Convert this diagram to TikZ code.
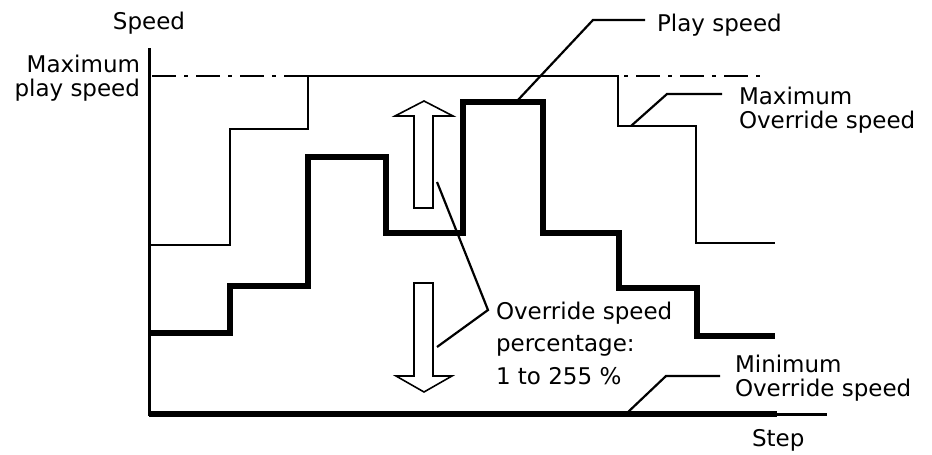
\documentclass[tikz,border=0pt]{standalone}
\usepackage{fontspec}
\setmainfont{DejaVu Sans}
\begin{document}
\begin{tikzpicture}[x=1pt,y=-1pt,
  lbl/.style={inner sep=0pt,outer sep=0pt,font=\fontsize{23}{24}\selectfont},
  thinline/.style={line width=2.5pt,line join=miter},
  thickline/.style={line width=6pt,line join=miter},
  axisline/.style={line width=3pt},
  leader/.style={line width=2.2pt},
  hollow/.style={draw,fill=white,line width=1.6pt,line join=miter}]
\useasboundingbox (0,0) rectangle (932,455);
% axes
\coordinate (yt) at (149,48);
\coordinate (o) at (149,414);
\coordinate (xe) at (827,414);
\draw[axisline] (yt) -- (o) -- (xe);
% minimum override speed
\coordinate (m0) at (149,414);
\coordinate (m1) at (777,414);
\draw[thickline] (m0) -- (m1);
% maximum play speed (dash dot)
\coordinate (d0) at (152,76);
\coordinate (d1) at (762,76);
\draw[line width=2.5pt,dash pattern=on 24pt off 8pt on 4pt off 8pt] (d0) -- (d1);
% maximum override speed
\draw[thinline] (149,245) -- (230,245) -- (230,129) -- (308,129) -- (308,76)
  -- (618,76) -- (618,126) -- (696,126) -- (696,243) -- (775,243);
% play speed
\draw[thickline] (149,333) -- (230,333) -- (230,286) -- (308,286) -- (308,157)
  -- (386,157) -- (386,233) -- (463,233) -- (463,102) -- (543,102) -- (543,233)
  -- (619,233) -- (619,288) -- (697,288) -- (697,336) -- (775,336);
% hollow arrows
\draw[hollow] (414,208) -- (414,116) -- (395,116) -- (424,101) -- (453,116)
  -- (433,116) -- (433,208) -- cycle;
\draw[hollow] (414,283) -- (433,283) -- (433,376) -- (452,376) -- (424,392)
  -- (396,376) -- (414,376) -- cycle;
% labels
\node[lbl,anchor=north] (speed) at (149,12) {Speed};
\node[lbl,anchor=north east,align=right] (maxplay) at (140,55) {Maximum\\play speed};
\node[lbl,anchor=north west] (play) at (657,14) {Play speed};
\node[lbl,anchor=north west,align=left] (maxov) at (739,87) {Maximum\\Override speed};
\node[lbl,anchor=north west,align=left,font=\fontsize{23}{32.5}\selectfont] (perc) at (496,302) {Override speed\\percentage:\\1 to 255 \%};
\node[lbl,anchor=north west,align=left] (minov) at (735,355) {Minimum\\Override speed};
\node[lbl,anchor=north west] (step) at (752,429) {Step};
% leaders
\coordinate (pl0) at (518,100);
\coordinate (pl1) at (593,20);
\coordinate (pl2) at (645,20);
\draw[leader] (pl0) -- (pl1) -- (pl2);
\coordinate (mo0) at (631,126);
\coordinate (mo1) at (667,94);
\coordinate (mo2) at (722,94);
\draw[leader] (mo0) -- (mo1) -- (mo2);
\coordinate (mi0) at (627,413);
\coordinate (mi1) at (666,376);
\coordinate (mi2) at (720,376);
\draw[leader] (mi0) -- (mi1) -- (mi2);
\coordinate (pc0) at (437,182);
\coordinate (pc1) at (488,310);
\coordinate (pc2) at (437,347);
\draw[leader] (pc0) -- (pc1) -- (pc2);
\end{tikzpicture}
\end{document}
